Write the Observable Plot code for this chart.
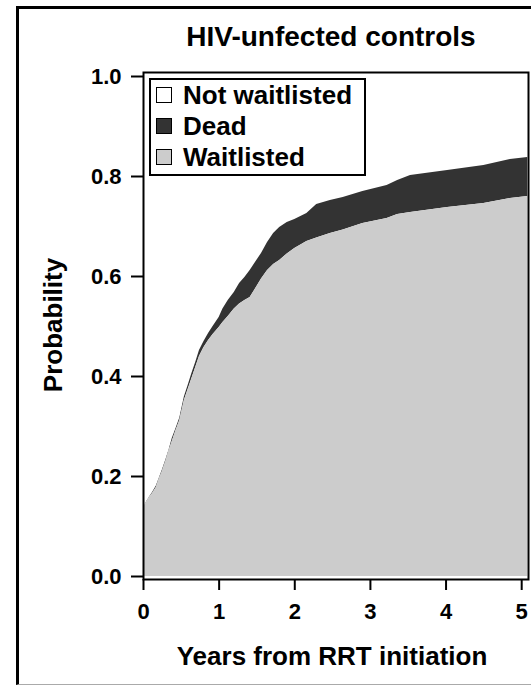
<!DOCTYPE html>
<html><head><meta charset="utf-8">
<script src="https://cdn.jsdelivr.net/npm/d3@7"></script>
<script src="https://cdn.jsdelivr.net/npm/@observablehq/plot@0.6"></script>
<style>
body{margin:0;background:#fff;font-family:Arial,"Liberation Sans",sans-serif;}
#wrap{position:relative;width:531px;height:686px;overflow:hidden;background:#fff;}
#border{position:absolute;left:16px;top:6px;width:540px;height:679px;border-left:3px solid #000;border-top:3px solid #000;border-bottom:1px solid #aaa;box-sizing:border-box;}
.txt{position:absolute;font-weight:bold;color:#000;white-space:nowrap;text-align:center;}
#title{left:131px;width:400px;top:23px;font-size:28px;line-height:28px;}
#xlab{left:132px;width:400px;top:641px;font-size:26px;line-height:30px;}
#ylab{left:-147px;width:400px;top:310px;font-size:26px;line-height:30px;transform:rotate(-90deg);}
#chart{position:absolute;left:0;top:60px;}
#legend{position:absolute;left:149px;top:78px;width:217px;height:98px;border:2px solid #000;box-sizing:border-box;background:#fff;}
.row{position:absolute;left:0;height:30px;font-size:26px;line-height:30px;font-weight:bold;white-space:nowrap;}
.sw{position:absolute;left:5px;top:7px;width:16px;height:16px;border:1.5px solid #000;box-sizing:border-box;}
.lt{position:absolute;left:32px;top:0;}
</style>
</head><body>
<div id="wrap">
<div id="border"></div>
<div id="title" class="txt"></div>
<div id="chart"></div>
<div id="ylab" class="txt"></div>
<div id="xlab" class="txt"></div>
<div id="legend"></div>
</div>
<script>
const titleText = "HIV-unfected controls";
const xTitle = "Years from RRT initiation";
const yTitle = "Probability";
const categories = ["Not waitlisted", "Dead", "Waitlisted"];
const colors = ["#ffffff", "#333333", "#cccccc"];
const xTicks = [0, 1, 2, 3, 4, 5];
const yTicks = [0.0, 0.2, 0.4, 0.6, 0.8, 1.0];

// years from RRT initiation
const times = [0.00,0.04,0.08,0.12,0.17,0.21,0.25,0.30,0.34,0.38,0.43,0.48,0.51,0.54,0.59,0.64,0.69,0.74,0.80,0.86,0.92,1.00,1.05,1.12,1.20,1.27,1.34,1.41,1.48,1.56,1.64,1.72,1.80,1.90,2.00,2.16,2.29,2.47,2.64,2.90,3.22,3.36,3.53,4.02,4.50,4.85,5.08];
// cumulative probability waitlisted
const waitlisted = [0.138,0.148,0.158,0.166,0.178,0.195,0.210,0.232,0.252,0.270,0.292,0.312,0.332,0.352,0.374,0.396,0.418,0.440,0.458,0.472,0.484,0.498,0.508,0.520,0.535,0.545,0.552,0.558,0.575,0.595,0.612,0.624,0.632,0.645,0.656,0.670,0.677,0.686,0.693,0.706,0.716,0.724,0.728,0.738,0.746,0.756,0.760];
// cumulative probability dead (before waitlisting)
const dead = [0.000,0.001,0.001,0.002,0.003,0.002,0.003,0.003,0.002,0.006,0.004,0.005,0.006,0.007,0.008,0.010,0.010,0.012,0.012,0.014,0.016,0.020,0.027,0.032,0.033,0.041,0.046,0.054,0.053,0.051,0.056,0.062,0.066,0.063,0.058,0.056,0.067,0.066,0.065,0.064,0.066,0.068,0.074,0.074,0.076,0.078,0.078];

document.getElementById("title").textContent = titleText;
document.getElementById("xlab").textContent = xTitle;
document.getElementById("ylab").textContent = yTitle;

const legend = document.getElementById("legend");
categories.forEach((c, i) => {
  const r = document.createElement("div");
  r.className = "row";
  r.style.top = (i * 31) + "px";
  const s = document.createElement("div");
  s.className = "sw";
  s.style.background = colors[i];
  const t = document.createElement("div");
  t.className = "lt";
  t.textContent = c;
  r.appendChild(s); r.appendChild(t);
  legend.appendChild(r);
});

const rows = times.map((t, i) => ({t, w: waitlisted[i], d: waitlisted[i] + dead[i]}));

const chart = Plot.plot({
  width: 531, height: 626,
  marginLeft: 143, marginRight: 3, marginTop: 12, marginBottom: 107,
  x: {domain: [0, 5.09]},
  y: {domain: [-0.006, 1.008]},
  style: {fontFamily: "Arial, 'Liberation Sans', sans-serif", fontWeight: "bold", fontSize: "22px", color: "#000", background: "transparent"},
  marks: [
    Plot.areaY(rows, {x: "t", y1: "w", y2: "d", fill: colors[1], curve: "linear"}),
    Plot.areaY(rows, {x: "t", y1: 0, y2: "w", fill: colors[2], curve: "linear"}),
    Plot.frame({stroke: "#000", strokeWidth: 2}),
    Plot.axisX({ticks: xTicks, tickSize: 11, tickPadding: 13, tickFormat: d => String(d), fontSize: 22, label: null, strokeWidth: 2}),
    Plot.axisY({ticks: yTicks, tickSize: 12, tickPadding: 10, tickFormat: d3.format(".1f"), fontSize: 22, label: null, strokeWidth: 2})
  ]
});
document.getElementById("chart").appendChild(chart);
</script>
</body></html>
